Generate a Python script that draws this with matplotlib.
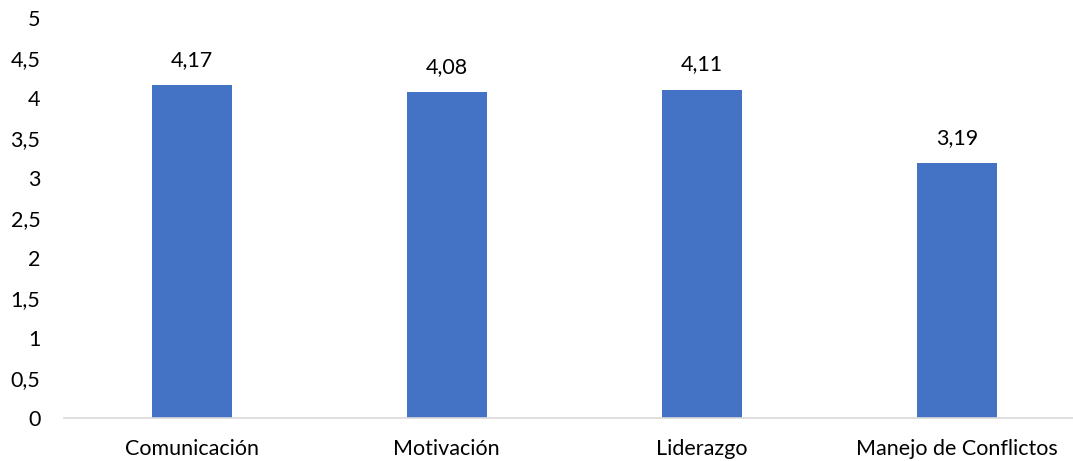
import matplotlib
matplotlib.use("Agg")
import matplotlib.pyplot as plt

categories = ["Comunicación", "Motivación", "Liderazgo", "Manejo de Conflictos"]
values = [4.17, 4.08, 4.11, 3.19]
yticks = [0, 0.5, 1, 1.5, 2, 2.5, 3, 3.5, 4, 4.5, 5]

plt.rcParams["font.family"] = ["Lato", "DejaVu Sans"]
FS = 15.5

def fmt(v):
    s = f"{v:g}"
    return s.replace(".", ",")

fig = plt.figure(figsize=(10.73, 4.61), dpi=100)
ax = fig.add_axes([0.0596, 0.0922, 0.9515, 0.8677])

x = range(len(categories))
bars = ax.bar(x, values, width=0.313, color="#4472C4", zorder=2)

for xi, v in zip(x, values):
    ax.annotate(f"{v:.2f}".replace(".", ","), (xi, v), xytext=(0, 11),
                textcoords="offset points", ha="center", va="bottom",
                fontsize=FS, color="#000000")

ax.set_xlim(-0.5, len(categories) - 0.5)
ax.set_ylim(0, 5)
ax.set_yticks(yticks)
ax.set_yticklabels([fmt(t) for t in yticks])
ax.set_xticks(list(x))
ax.set_xticklabels(categories)
ax.tick_params(axis="y", length=0, pad=17, labelsize=FS)
ax.tick_params(axis="x", length=0, pad=15, labelsize=FS)

for s in ["top", "right", "left"]:
    ax.spines[s].set_visible(False)
ax.spines["bottom"].set_color("#D9D9D9")
ax.spines["bottom"].set_linewidth(1.2)

fig.savefig("out.png", dpi=100)
